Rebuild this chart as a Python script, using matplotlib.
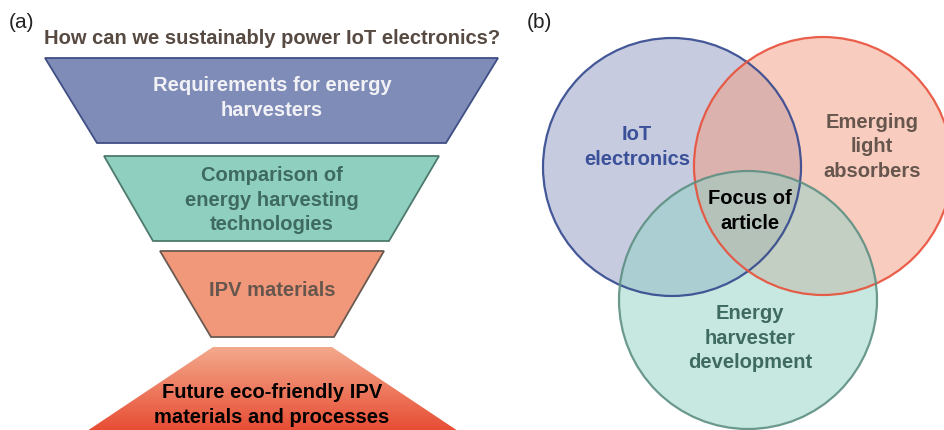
import matplotlib
matplotlib.use("Agg")
import matplotlib.pyplot as plt
import numpy as np
from matplotlib.patches import Polygon, Circle

plt.rcParams['font.family'] = ['Liberation Sans', 'DejaVu Sans']

# ---- content ----
title_a = "How can we sustainably power IoT electronics?"
stage_labels = ["Requirements for energy\nharvesters",
                "Comparison of\nenergy harvesting\ntechnologies",
                "IPV materials",
                "Future eco-friendly IPV\nmaterials and processes"]
stage_fill = ["#7f8cb8", "#8ecfbf", "#f1987b", None]
stage_edge = ["#3f4f86", "#4d7a6c", "#6a5a50", None]
stage_text = ["#f2f2f6", "#3e6a5f", "#66564d", "#000000"]

venn_labels = ["IoT\nelectronics", "Emerging\nlight\nabsorbers", "Energy\nharvester\ndevelopment"]
venn_fill = ["#8e99c2", "#f39a80", "#90d2c5"]
venn_edge = ["#33488e", "#e8503a", "#5e8f82"]
venn_text = ["#3a5098", "#66564d", "#3e6a5f"]
center_label = "Focus of\narticle"

fig = plt.figure(figsize=(9.45, 4.3), dpi=100)
ax = fig.add_axes([0, 0, 1, 1])
ax.set_xlim(0, 945)
ax.set_ylim(430, 0)
ax.axis('off')

fs = 14.5
ls = 1.36
# ---- panel (a) ----
ax.text(9, 23, "(a)", fontsize=15, ha='left', va='center', color='#222222')
ax.text(272, 38, title_a, fontsize=fs, fontweight='bold', ha='center', va='center', color='#574a42')

# trapezoids: (top_y, bottom_y, top_left, top_right, bot_left, bot_right)
traps = [(58, 143, 45, 498, 97, 446),
         (156, 241, 104, 439, 153, 389),
         (251, 337, 160, 384, 211, 334)]
text_y = [98, 200, 290]
for i, (ty, by, tl, tr, bl, br) in enumerate(traps):
    poly = Polygon([(tl, ty), (tr, ty), (br, by), (bl, by)], closed=True,
                   facecolor=stage_fill[i], edgecolor=stage_edge[i], lw=1.3)
    ax.add_patch(poly)
    ax.text(272, text_y[i], stage_labels[i], fontsize=fs, fontweight='bold', ha='center',
            va='center', color=stage_text[i], linespacing=ls)

# bottom gradient trapezoid (wider downward, cut by figure edge)
ty, tl, tr = 347, 213, 332
by = 440
slope = 1.5
bl, br = tl - slope * (by - ty), tr + slope * (by - ty)
poly4 = Polygon([(tl, ty), (tr, ty), (br, by), (bl, by)], closed=True,
                facecolor='none', edgecolor='none')
ax.add_patch(poly4)
c_top = np.array(matplotlib.colors.to_rgb("#f3a98c"))
c_bot = np.array(matplotlib.colors.to_rgb("#e6432a"))
t = np.linspace(0, 1, 200)[:, None]
grad = (c_top * (1 - t) + c_bot * t)[:, None, :] * np.ones((1, 2, 1))
im = ax.imshow(grad, extent=(bl, br, by, ty), aspect='auto', zorder=1)
im.set_clip_path(poly4)
ax.text(272, 405, stage_labels[3], fontsize=fs, fontweight='bold', ha='center',
        va='center', color=stage_text[3], linespacing=ls, zorder=3)

# ---- panel (b) ----
ax.text(527, 23, "(b)", fontsize=15, ha='left', va='center', color='#222222')
centers = [(672, 167), (823, 166), (748, 300)]
r = 129
for i, (cx, cy) in enumerate(centers):
    ax.add_patch(Circle((cx, cy), r, facecolor=venn_fill[i], alpha=0.5, edgecolor='none'))
for i, (cx, cy) in enumerate(centers):
    ax.add_patch(Circle((cx, cy), r, facecolor='none', edgecolor=venn_edge[i], lw=1.6, alpha=0.9))

ax.text(637, 147, venn_labels[0], fontsize=fs, fontweight='bold', ha='center', va='center',
        color=venn_text[0], linespacing=ls)
ax.text(872, 147, venn_labels[1], fontsize=fs, fontweight='bold', ha='center', va='center',
        color=venn_text[1], linespacing=ls)
ax.text(750, 338, venn_labels[2], fontsize=fs, fontweight='bold', ha='center', va='center',
        color=venn_text[2], linespacing=ls)
ax.text(750, 211, center_label, fontsize=fs, fontweight='bold', ha='center', va='center',
        color='#000000', linespacing=ls)

fig.savefig("out.png", dpi=100)
